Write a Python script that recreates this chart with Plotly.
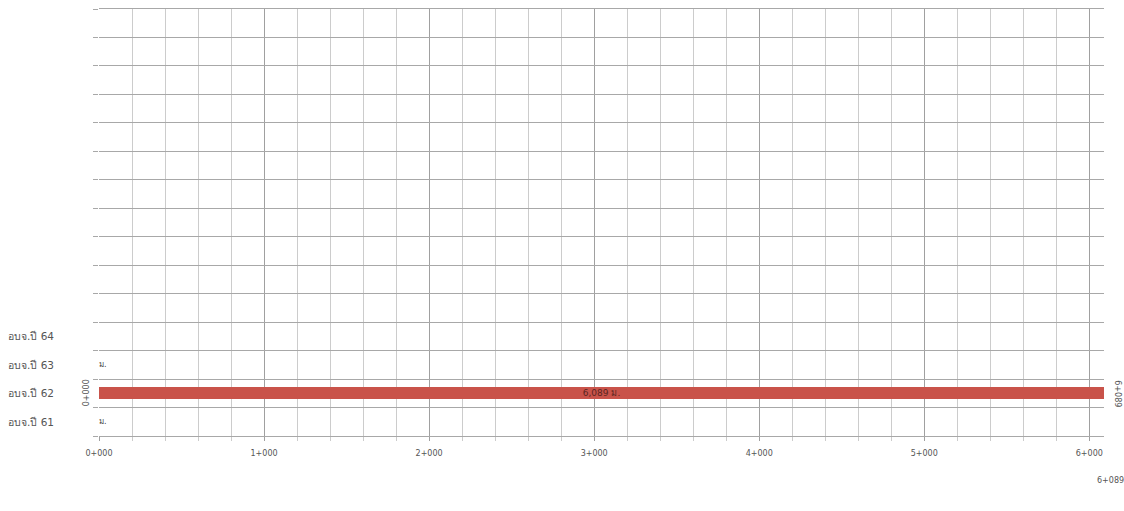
import plotly.graph_objects as go

# Data
categories = ["อบจ.ปี 61", "อบจ.ปี 62", "อบจ.ปี 63", "อบจ.ปี 64"]
seg_start = [0, 0, 0, 0]
seg_length = [0, 6089, 0, None]
seg_text = ["ม.", "6,089 ม.", "ม.", ""]
total_rows = 15
road_start = 0
road_end = 6089
tick_values = [0, 1000, 2000, 3000, 4000, 5000, 6000]

def km_label(v):
    return f"{int(v)//1000}+{int(v)%1000:03d}"

tick_labels = [km_label(v) for v in tick_values]

FONT = "DejaVu Sans"
fig = go.Figure()

rows = list(range(len(categories)))
bar_rows = [r for r, l in zip(rows, seg_length) if l]
bar_len = [l for l in seg_length if l]
bar_base = [s for s, l in zip(seg_start, seg_length) if l]
bar_text = [t for t, l in zip(seg_text, seg_length) if l]

fig.add_trace(go.Bar(
    orientation="h", y=bar_rows, x=bar_len, base=bar_base, width=0.42,
    marker=dict(color="#c9534a", line=dict(width=0)),
    text=bar_text, textposition="inside", insidetextanchor="middle",
    constraintext="none",
    textfont=dict(family=FONT, size=9, color="#5a2520"),
    showlegend=False, hoverinfo="skip", cliponaxis=False,
))

zero_rows = [r for r, l in zip(rows, seg_length) if l == 0]
zero_x = [s for s, l in zip(seg_start, seg_length) if l == 0]
zero_text = [t for t, l in zip(seg_text, seg_length) if l == 0]
fig.add_trace(go.Scatter(
    x=zero_x, y=zero_rows, mode="text", text=zero_text,
    textposition="middle right",
    textfont=dict(family=FONT, size=8, color="#444"),
    showlegend=False, hoverinfo="skip", cliponaxis=False,
))

# category labels (left aligned)
for r, c in zip(rows, categories):
    fig.add_annotation(x=0, xref="paper", xshift=-93, y=r, yref="y", text=c,
                       showarrow=False, xanchor="left",
                       font=dict(family=FONT, size=10.5, color="#555"))

# rotated start/end labels
fig.add_annotation(x=road_start, y=1, xref="x", yref="y", text=km_label(road_start),
                   textangle=-90, showarrow=False, xshift=-13,
                   font=dict(family=FONT, size=8, color="#555"))
fig.add_annotation(x=road_end, y=1, xref="x", yref="y", text=km_label(road_end),
                   textangle=90, showarrow=False, xshift=14,
                   font=dict(family=FONT, size=8, color="#555"))
fig.add_annotation(x=road_end, y=0, xref="x", yref="paper", text=km_label(road_end),
                   showarrow=False, xshift=6, yshift=-51,
                   font=dict(family=FONT, size=8, color="#555"))

fig.update_xaxes(
    range=[road_start, road_end], tickvals=tick_values, ticktext=tick_labels,
    showgrid=True, gridcolor="#a0a0a0", gridwidth=1.4,
    zeroline=False, showline=True, mirror=True, linecolor="#a8a8a8", linewidth=1.3,
    ticks="outside", ticklen=4, tickcolor="#a0a0a0", ticklabelstandoff=5,
    tickfont=dict(family=FONT, size=8, color="#555"),
    minor=dict(dtick=200, tick0=0, showgrid=True, gridcolor="#cccccc", gridwidth=1,
               ticks="outside", ticklen=4, tickcolor="#cccccc"),
    fixedrange=True, automargin=False,
)
fig.update_yaxes(
    range=[-0.5, total_rows - 0.5], tick0=-0.5, dtick=1,
    showticklabels=False, showgrid=True, gridcolor="#a8a8a8", gridwidth=1.3,
    zeroline=False, showline=False,
    ticks="outside", ticklen=5, tickcolor="#a8a8a8",
    fixedrange=True, automargin=False,
)
fig.update_layout(
    width=1124, height=511,
    margin=dict(l=99, r=20, t=9, b=75),
    plot_bgcolor="white", paper_bgcolor="white",
    bargap=0,
)
fig.write_html("out.html", config={"displayModeBar": False},
               post_script="document.body.style.margin='0px';")
